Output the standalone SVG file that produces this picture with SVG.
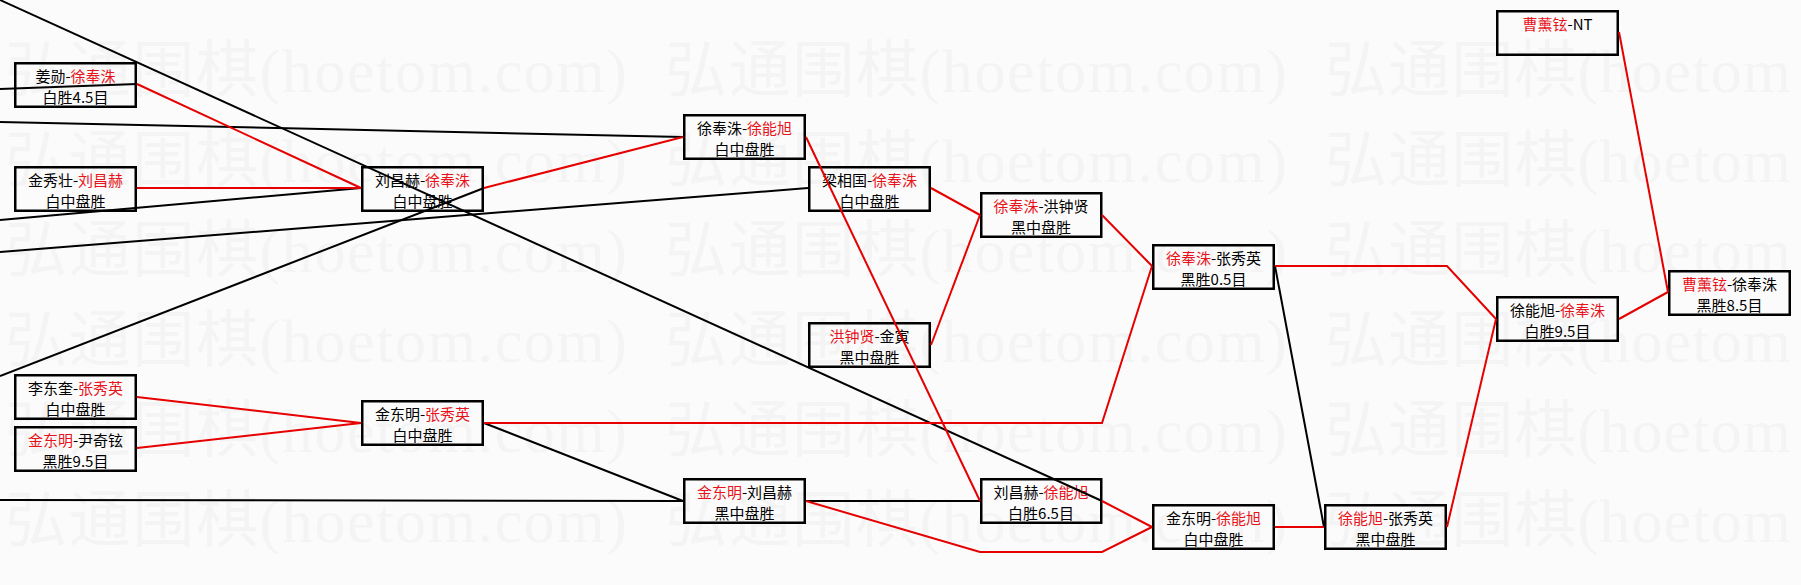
<svg xmlns="http://www.w3.org/2000/svg" width="1801" height="585" viewBox="0 0 1801 585">
<style>
.bg{fill:#fbfbfb}
.wm{font-family:"Liberation Serif","DejaVu Serif","Noto Sans CJK SC",serif;font-size:62px;fill:#f4f4f4}
.box{fill:none;stroke:#000;stroke-width:2.5}
.t{font-family:"Noto Sans CJK SC","Noto Sans",sans-serif;font-size:15px;fill:#000;text-anchor:middle}
.r{fill:#e8141b}
.k{fill:none;stroke:#000;stroke-width:2}
.rl{fill:none;stroke:#e60000;stroke-width:2}
</style>
<rect class="bg" x="0" y="0" width="1801" height="585"/>
<g id="watermark">
<text class="wm" x="5" y="92" textLength="622" lengthAdjust="spacing">弘通围棋(hoetom.com)</text>
<text class="wm" x="665" y="92" textLength="622" lengthAdjust="spacing">弘通围棋(hoetom.com)</text>
<text class="wm" x="1325" y="92" textLength="466" lengthAdjust="spacing">弘通围棋(hoetom</text>
<text class="wm" x="5" y="182" textLength="622" lengthAdjust="spacing">弘通围棋(hoetom.com)</text>
<text class="wm" x="665" y="182" textLength="622" lengthAdjust="spacing">弘通围棋(hoetom.com)</text>
<text class="wm" x="1325" y="182" textLength="466" lengthAdjust="spacing">弘通围棋(hoetom</text>
<text class="wm" x="5" y="272" textLength="622" lengthAdjust="spacing">弘通围棋(hoetom.com)</text>
<text class="wm" x="665" y="272" textLength="622" lengthAdjust="spacing">弘通围棋(hoetom.com)</text>
<text class="wm" x="1325" y="272" textLength="466" lengthAdjust="spacing">弘通围棋(hoetom</text>
<text class="wm" x="5" y="362" textLength="622" lengthAdjust="spacing">弘通围棋(hoetom.com)</text>
<text class="wm" x="665" y="362" textLength="622" lengthAdjust="spacing">弘通围棋(hoetom.com)</text>
<text class="wm" x="1325" y="362" textLength="466" lengthAdjust="spacing">弘通围棋(hoetom</text>
<text class="wm" x="5" y="452" textLength="622" lengthAdjust="spacing">弘通围棋(hoetom.com)</text>
<text class="wm" x="665" y="452" textLength="622" lengthAdjust="spacing">弘通围棋(hoetom.com)</text>
<text class="wm" x="1325" y="452" textLength="466" lengthAdjust="spacing">弘通围棋(hoetom</text>
<text class="wm" x="5" y="542" textLength="622" lengthAdjust="spacing">弘通围棋(hoetom.com)</text>
<text class="wm" x="665" y="542" textLength="622" lengthAdjust="spacing">弘通围棋(hoetom.com)</text>
<text class="wm" x="1325" y="542" textLength="466" lengthAdjust="spacing">弘通围棋(hoetom</text>
</g>
<g id="n1" transform="translate(14,62)"><rect class="box" x="1.25" y="1.25" width="120.5" height="43.5"/><text class="t" x="61.5" y="20">姜勋-<tspan class="r">徐奉洙</tspan></text><text class="t" x="61.5" y="41">白胜4.5目</text></g>
<g id="n2" transform="translate(14,166)"><rect class="box" x="1.25" y="1.25" width="120.5" height="43.5"/><text class="t" x="61.5" y="20">金秀壮-<tspan class="r">刘昌赫</tspan></text><text class="t" x="61.5" y="41">白中盘胜</text></g>
<g id="n3" transform="translate(14,374)"><rect class="box" x="1.25" y="1.25" width="120.5" height="43.5"/><text class="t" x="61.5" y="20">李东奎-<tspan class="r">张秀英</tspan></text><text class="t" x="61.5" y="41">白中盘胜</text></g>
<g id="n4" transform="translate(14,426)"><rect class="box" x="1.25" y="1.25" width="120.5" height="43.5"/><text class="t" x="61.5" y="20"><tspan class="r">金东明</tspan>-尹奇铉</text><text class="t" x="61.5" y="41">黑胜9.5目</text></g>
<g id="n5" transform="translate(361,166)"><rect class="box" x="1.25" y="1.25" width="120.5" height="43.5"/><text class="t" x="61.5" y="20">刘昌赫-<tspan class="r">徐奉洙</tspan></text><text class="t" x="61.5" y="41">白中盘胜</text></g>
<g id="n6" transform="translate(361,400)"><rect class="box" x="1.25" y="1.25" width="120.5" height="43.5"/><text class="t" x="61.5" y="20">金东明-<tspan class="r">张秀英</tspan></text><text class="t" x="61.5" y="41">白中盘胜</text></g>
<g id="n7" transform="translate(683,114)"><rect class="box" x="1.25" y="1.25" width="120.5" height="43.5"/><text class="t" x="61.5" y="20">徐奉洙-<tspan class="r">徐能旭</tspan></text><text class="t" x="61.5" y="41">白中盘胜</text></g>
<g id="n8" transform="translate(808,166)"><rect class="box" x="1.25" y="1.25" width="120.5" height="43.5"/><text class="t" x="61.5" y="20">梁相国-<tspan class="r">徐奉洙</tspan></text><text class="t" x="61.5" y="41">白中盘胜</text></g>
<g id="n9" transform="translate(808,322)"><rect class="box" x="1.25" y="1.25" width="120.5" height="43.5"/><text class="t" x="61.5" y="20"><tspan class="r">洪钟贤</tspan>-金寅</text><text class="t" x="61.5" y="41">黑中盘胜</text></g>
<g id="n10" transform="translate(683,478)"><rect class="box" x="1.25" y="1.25" width="120.5" height="43.5"/><text class="t" x="61.5" y="20"><tspan class="r">金东明</tspan>-刘昌赫</text><text class="t" x="61.5" y="41">黑中盘胜</text></g>
<g id="n11" transform="translate(980,192)"><rect class="box" x="1.25" y="1.25" width="120" height="43.5"/><text class="t" x="61" y="20"><tspan class="r">徐奉洙</tspan>-洪钟贤</text><text class="t" x="61" y="41">黑中盘胜</text></g>
<g id="n12" transform="translate(980,478)"><rect class="box" x="1.25" y="1.25" width="120" height="43.5"/><text class="t" x="61" y="20">刘昌赫-<tspan class="r">徐能旭</tspan></text><text class="t" x="61" y="41">白胜6.5目</text></g>
<g id="n13" transform="translate(1152,244)"><rect class="box" x="1.25" y="1.25" width="120.5" height="43.5"/><text class="t" x="61.5" y="20"><tspan class="r">徐奉洙</tspan>-张秀英</text><text class="t" x="61.5" y="41">黑胜0.5目</text></g>
<g id="n14" transform="translate(1152,504)"><rect class="box" x="1.25" y="1.25" width="120.5" height="43.5"/><text class="t" x="61.5" y="20">金东明-<tspan class="r">徐能旭</tspan></text><text class="t" x="61.5" y="41">白中盘胜</text></g>
<g id="n15" transform="translate(1324,504)"><rect class="box" x="1.25" y="1.25" width="120.5" height="43.5"/><text class="t" x="61.5" y="20"><tspan class="r">徐能旭</tspan>-张秀英</text><text class="t" x="61.5" y="41">黑中盘胜</text></g>
<g id="n16" transform="translate(1496,296)"><rect class="box" x="1.25" y="1.25" width="120.5" height="43.5"/><text class="t" x="61.5" y="20">徐能旭-<tspan class="r">徐奉洙</tspan></text><text class="t" x="61.5" y="41">白胜9.5目</text></g>
<g id="n17" transform="translate(1668,270)"><rect class="box" x="1.25" y="1.25" width="120.5" height="43.5"/><text class="t" x="61.5" y="20"><tspan class="r">曹薰铉</tspan>-徐奉洙</text><text class="t" x="61.5" y="41">黑胜8.5目</text></g>
<g id="n18" transform="translate(1496,10)"><rect class="box" x="1.25" y="1.25" width="120.5" height="43.5"/><text class="t" x="61.5" y="20"><tspan class="r">曹薰铉</tspan>-NT</text></g>
<g id="connectors">
<path class="k" d="M0,0 L1102,501"/>
<path class="k" d="M0,89 L137,84"/>
<path class="k" d="M0,122 L683,137"/>
<path class="k" d="M0,220 L361,188"/>
<path class="k" d="M0,252 L808,188"/>
<path class="k" d="M0,376 L484,188"/>
<path class="k" d="M0,500 L683,501"/>
<path class="k" d="M806,501 L980,501"/>
<path class="k" d="M484,423 L683,501"/>
<path class="k" d="M1275,266 L1324,527"/>
<path class="rl" d="M137,84 L361,188"/>
<path class="rl" d="M137,188 L361,188"/>
<path class="rl" d="M484,188 L683,137"/>
<path class="rl" d="M806,137 L980,501"/>
<path class="rl" d="M931,188 L980,215"/>
<path class="rl" d="M931,345 L980,215"/>
<path class="rl" d="M1102,215 L1152,266"/>
<path class="rl" d="M484,423 L1102,423 L1152,266"/>
<path class="rl" d="M137,397 L361,423"/>
<path class="rl" d="M137,448 L361,423"/>
<path class="rl" d="M806,501 L980,552 L1102,552 L1152,527"/>
<path class="rl" d="M1102,501 L1152,527"/>
<path class="rl" d="M1275,527 L1324,527"/>
<path class="rl" d="M1275,266 L1447,266 L1496,319"/>
<path class="rl" d="M1447,527 L1496,319"/>
<path class="rl" d="M1619,319 L1668,292"/>
<path class="rl" d="M1619,32 L1668,292"/>
</g>
</svg>
